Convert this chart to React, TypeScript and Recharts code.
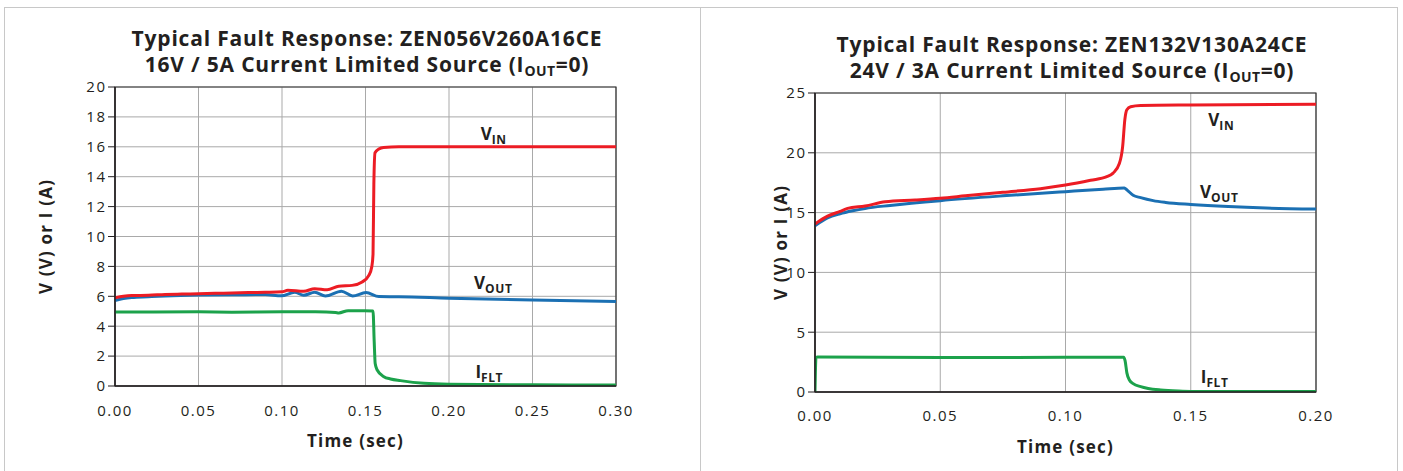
import React from 'react';
import {
  LineChart, Line, XAxis, YAxis, CartesianGrid, ReferenceArea, ReferenceDot, Label,
} from 'recharts';

// ZEN056V260A16CE, 16V / 5A source — [time (s), value]
const leftVin = [
  [0, 5.9], [0.005, 6.0], [0.01, 6.05], [0.02, 6.07], [0.03, 6.12], [0.04, 6.15],
  [0.05, 6.17], [0.06, 6.2], [0.07, 6.22], [0.08, 6.25], [0.09, 6.27], [0.1, 6.3],
  [0.1035, 6.4], [0.113, 6.33], [0.1196, 6.51], [0.127, 6.44], [0.134, 6.67],
  [0.142, 6.73], [0.148, 6.96], [0.152, 7.4], [0.1538, 8.0], [0.1545, 8.8],
  [0.1550, 13.5], [0.1557, 15.6], [0.158, 15.85], [0.1608, 15.96], [0.17, 16.0],
  [0.2, 16.0], [0.25, 16.0], [0.3, 16.0],
];
const leftVout = [
  [0, 5.72], [0.005, 5.85], [0.01, 5.92], [0.02, 5.97], [0.03, 6.02], [0.05, 6.08],
  [0.07, 6.1], [0.09, 6.12], [0.0996, 6.03], [0.1076, 6.27], [0.113, 6.07],
  [0.1196, 6.27], [0.126, 6.02], [0.1356, 6.34], [0.1423, 6.02], [0.1503, 6.25],
  [0.158, 5.98], [0.17, 5.97], [0.2, 5.87], [0.25, 5.75], [0.3, 5.65],
];
const leftIflt = [
  [0, 4.95], [0.05, 4.96], [0.07, 4.94], [0.1, 4.97], [0.12, 4.96], [0.132, 4.92],
  [0.134, 4.89], [0.1396, 5.04], [0.145, 5.03], [0.1545, 5.02], [0.1552, 3.0],
  [0.1558, 1.5], [0.157, 1.07], [0.161, 0.62], [0.165, 0.47], [0.171, 0.36],
  [0.185, 0.18], [0.2, 0.12], [0.25, 0.08], [0.3, 0.07],
];

// ZEN132V130A24CE, 24V / 3A source
const rightVin = [
  [0, 14.05], [0.005, 14.7], [0.01, 15.1], [0.013, 15.35], [0.02, 15.55], [0.028, 15.9],
  [0.04, 16.05], [0.05, 16.2], [0.06, 16.4], [0.075, 16.7], [0.09, 17.0], [0.1, 17.3],
  [0.11, 17.7], [0.1165, 18.0], [0.119, 18.3], [0.1215, 19.1], [0.1228, 20.5],
  [0.1237, 22.8], [0.1245, 23.6], [0.126, 23.85], [0.13, 23.95], [0.15, 24.0], [0.2, 24.05],
];
const rightVout = [
  [0, 13.9], [0.005, 14.55], [0.01, 14.9], [0.015, 15.15], [0.02, 15.35], [0.03, 15.6],
  [0.05, 16.0], [0.075, 16.4], [0.1, 16.75], [0.115, 16.95], [0.1235, 17.05],
  [0.1245, 16.9], [0.127, 16.45], [0.13, 16.25], [0.135, 16.0], [0.14, 15.85],
  [0.15, 15.68], [0.165, 15.5], [0.18, 15.38], [0.2, 15.3],
];
const rightIflt = [
  [0, 0], [0.0004, 2.9], [0.001, 2.93], [0.05, 2.88], [0.1, 2.9], [0.1232, 2.9],
  [0.1238, 2.6], [0.1245, 1.6], [0.1255, 1.0], [0.127, 0.7], [0.13, 0.45], [0.133, 0.3],
  [0.138, 0.17], [0.145, 0.08], [0.15, 0.05], [0.2, 0.05],
];

const leftXTicks = [0, 0.05, 0.1, 0.15, 0.2, 0.25, 0.3];
const leftYTicks = [0, 2, 4, 6, 8, 10, 12, 14, 16, 18, 20];
const rightXTicks = [0, 0.05, 0.1, 0.15, 0.2];
const rightYTicks = [0, 5, 10, 15, 20, 25];

// label anchors: [time, value] of the left baseline of each series name
const leftLabels = { vin: [0.219, 16.45], vout: [0.215, 6.47], iflt: [0.2158, 0.56] };
const rightLabels = { vin: [0.157, 22.24], vout: [0.1537, 16.25], iflt: [0.154, 0.75] };

const FONT = '"Open Sans", "DejaVu Sans", sans-serif';
const INK = '#231f20';
const RED = '#ec1c24';
const BLUE = '#1b70b3';
const GREEN = '#1ca24b';

const toPoints = (arr: number[][]) => arr.map(([t, v]) => ({ t, v }));

const seriesLabel = (main: string, sub: string) => (props: any) => {
  const vb = props.viewBox || {};
  const x = (vb.x ?? 0) + (vb.width ?? 0) / 2;
  const y = (vb.y ?? 0) + (vb.height ?? 0) / 2;
  return (
    <text x={x} y={y} fill={INK} fontFamily={FONT} fontWeight={700} fontSize={17}>
      <tspan>{main}</tspan>
      <tspan dy={4} fontSize={12} letterSpacing={0.6}>{sub}</tspan>
    </text>
  );
};

interface PanelProps {
  left: number;
  top: number;
  yLabelOffset: number;
  xLabelDx: number;
  tickMarginX: number;
  xMax: number;
  yMax: number;
  xTicks: number[];
  yTicks: number[];
  vin: number[][];
  vout: number[][];
  iflt: number[][];
  labels: Record<string, number[]>;
}

const tickStyle = { fill: INK, fontSize: 15, fontFamily: FONT, letterSpacing: 1.5 };
const axisTitleStyle = { fill: INK, fontSize: 17, fontWeight: 700, fontFamily: FONT, letterSpacing: 1.2 };

const Panel: React.FC<PanelProps> = (p) => (
  <div style={{ position: 'absolute', left: p.left, top: 0 }}>
    <LineChart
      width={700}
      height={471}
      margin={{ top: p.top, right: 84, bottom: 471 - p.top - 299 - 70, left: 20 }}
    >
      <CartesianGrid stroke="#a9a9a9" strokeWidth={1} />
      <XAxis
        dataKey="t"
        type="number"
        domain={[0, p.xMax]}
        ticks={p.xTicks}
        allowDataOverflow
        tickFormatter={(v: number) => v.toFixed(2)}
        height={70}
        tickSize={0}
        tickMargin={p.tickMarginX}
        axisLine={{ stroke: INK, strokeWidth: 1.5 }}
        tick={tickStyle}
      >
        <Label value="Time (sec)" position="insideBottom" offset={9} dx={p.xLabelDx} style={axisTitleStyle} />
      </XAxis>
      <YAxis
        type="number"
        domain={[0, p.yMax]}
        ticks={p.yTicks}
        allowDataOverflow
        width={95}
        tickSize={7}
        tickMargin={1.5}
        axisLine={{ stroke: INK, strokeWidth: 1.5 }}
        tickLine={{ stroke: INK }}
        tick={tickStyle}
      >
        <Label
          value="V (V) or I (A)"
          angle={-90}
          position="insideLeft"
          offset={p.yLabelOffset}
          style={{ ...axisTitleStyle, textAnchor: 'middle' }}
        />
      </YAxis>
      <ReferenceArea x1={0} x2={p.xMax} y1={0} y2={p.yMax} fill="none" stroke="#333" strokeWidth={1.2} />
      <Line data={toPoints(p.iflt)} dataKey="v" type="monotone" stroke={GREEN} strokeWidth={3} dot={false} isAnimationActive={false} />
      <Line data={toPoints(p.vout)} dataKey="v" type="monotone" stroke={BLUE} strokeWidth={3} dot={false} isAnimationActive={false} />
      <Line data={toPoints(p.vin)} dataKey="v" type="monotone" stroke={RED} strokeWidth={3} dot={false} isAnimationActive={false} />
      <ReferenceDot x={p.labels.vin[0]} y={p.labels.vin[1]} r={0} fill="none" stroke="none" label={seriesLabel('V', 'IN')} />
      <ReferenceDot x={p.labels.vout[0]} y={p.labels.vout[1]} r={0} fill="none" stroke="none" label={seriesLabel('V', 'OUT')} />
      <ReferenceDot x={p.labels.iflt[0]} y={p.labels.iflt[1]} r={0} fill="none" stroke="none" label={seriesLabel('I', 'FLT')} />
    </LineChart>
  </div>
);

const titleStyle: React.CSSProperties = {
  position: 'absolute',
  width: 700,
  textAlign: 'center',
  fontFamily: FONT,
  fontWeight: 700,
  fontSize: 21,
  letterSpacing: 0.8,
  lineHeight: '26px',
  color: INK,
  whiteSpace: 'nowrap',
};
const subStyle: React.CSSProperties = { fontSize: 14, position: 'relative', top: 4, letterSpacing: 0.5 };

export default function App() {
  return (
    <div style={{ position: 'absolute', left: 0, top: 0, width: 1403, height: 471, background: '#fff', overflow: 'hidden' }}>
      <div style={{ position: 'absolute', left: 4, top: 7, width: 695, height: 480, border: '1px solid #c8c8c8' }} />
      <div style={{ position: 'absolute', left: 700, top: 7, width: 696, height: 480, border: '1px solid #c8c8c8' }} />
      <Panel
        left={0} top={87} yLabelOffset={26} xLabelDx={-10} tickMarginX={19} xMax={0.3} yMax={20}
        xTicks={leftXTicks} yTicks={leftYTicks}
        vin={leftVin} vout={leftVout} iflt={leftIflt} labels={leftLabels}
      />
      <Panel
        left={700} top={93} yLabelOffset={61} xLabelDx={0} tickMarginX={18} xMax={0.2} yMax={25}
        xTicks={rightXTicks} yTicks={rightYTicks}
        vin={rightVin} vout={rightVout} iflt={rightIflt} labels={rightLabels}
      />
      <div style={{ ...titleStyle, left: 367 - 350, top: 25 }}>
        Typical Fault Response: ZEN056V260A16CE<br />
        16V / 5A Current Limited Source (I<span style={subStyle}>OUT</span>=0)
      </div>
      <div style={{ ...titleStyle, left: 1072 - 350, top: 31 }}>
        Typical Fault Response: ZEN132V130A24CE<br />
        24V / 3A Current Limited Source (I<span style={subStyle}>OUT</span>=0)
      </div>
    </div>
  );
}
